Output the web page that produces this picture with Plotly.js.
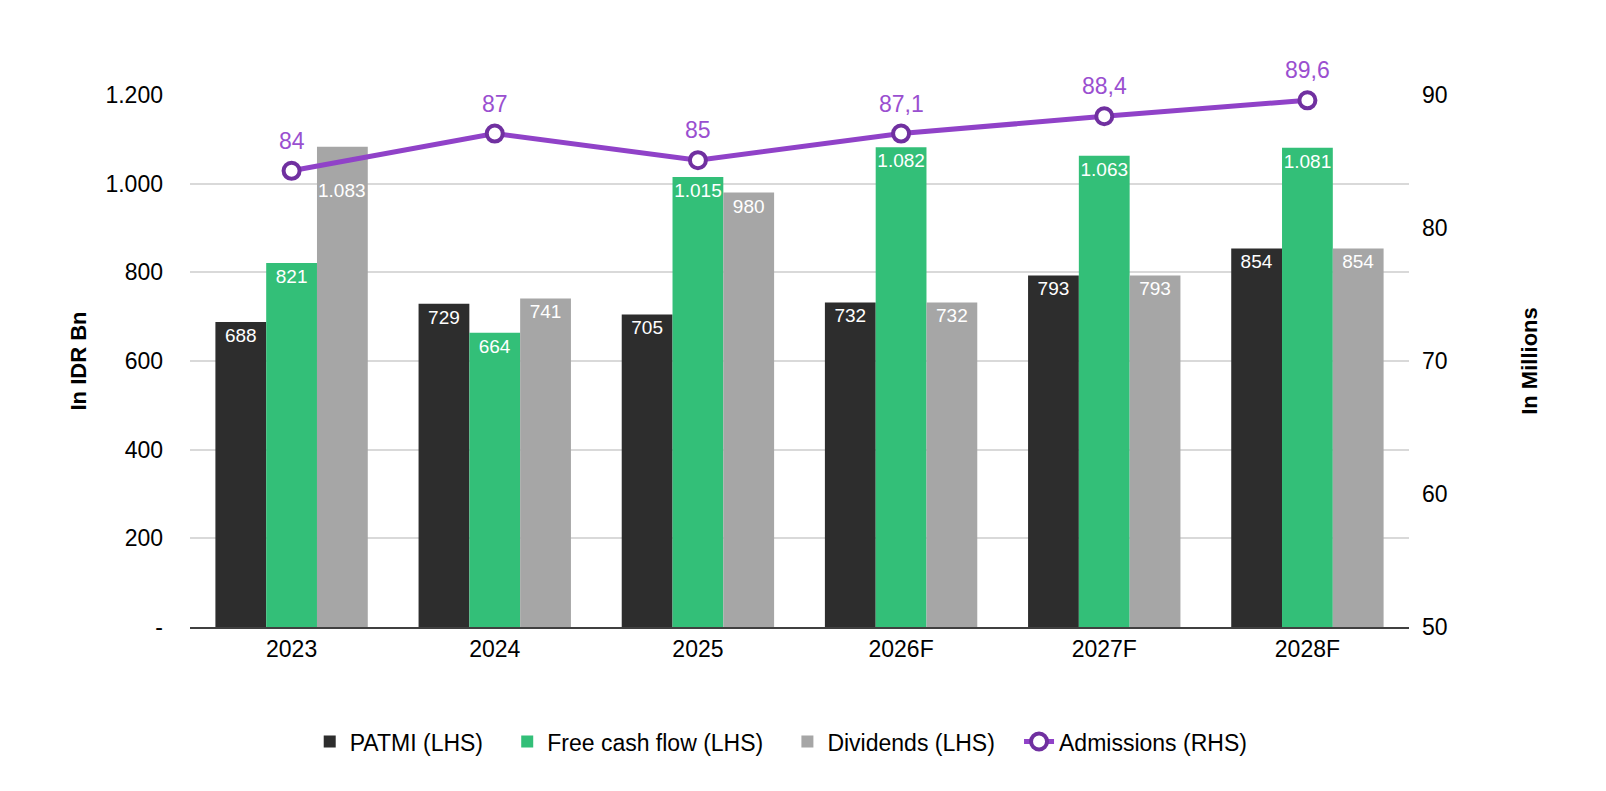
<!DOCTYPE html>
<html>
<head>
<meta charset="utf-8">
<script src="https://cdn.plot.ly/plotly-3.0.1.min.js"></script>
<style>
  html, body { margin: 0; padding: 0; background: #fff; }
  #chart { width: 1606px; height: 791px; }
</style>
</head>
<body>
<div id="chart"></div>
<script>
// chart values
const years = ['2023', '2024', '2025', '2026F', '2027F', '2028F'];
const patmi = [688, 729, 705, 732, 793, 854];
const freeCashFlow = [821, 664, 1015, 1082, 1063, 1081];
const dividends = [1083, 741, 980, 732, 793, 854];
const admissions = [84.3, 87.1, 85.1, 87.1, 88.4, 89.6];
const admissionLabels = ['84', '87', '85', '87,1', '88,4', '89,6'];
const leftTicks = [0, 200, 400, 600, 800, 1000, 1200];
const leftTickText = ['-', '200', '400', '600', '800', '1.000', '1.200'];
const rightTicks = [50, 60, 70, 80, 90];

const FONT = 'Liberation Sans, Arial, sans-serif';
const LABEL = '%{y:,}';
const GAP = '\u00a0\u00a0\u00a0';  // extra room between legend entries

// bar traces share most settings
function barTrace(name, values, color, templates) {
  return {
    type: 'bar',
    name: name + GAP,
    x: years,
    y: values,
    marker: { color: color },
    texttemplate: templates || LABEL,
    textposition: 'inside',
    insidetextanchor: 'end',
    textangle: 0,
    constraintext: 'none',
    textfont: { family: FONT, size: 19, color: '#ffffff' },
    hoverinfo: 'x+y+name'
  };
}

// first dividends label sits lower in the bar, clear of the line marker
const divTemplates = dividends.map((v, i) => i === 0 ? '' : LABEL);

const data = [
  barTrace('PATMI (LHS)', patmi, '#2d2d2d'),
  barTrace('Free cash flow (LHS)', freeCashFlow, '#33bf78'),
  barTrace('Dividends (LHS)', dividends, '#a6a6a6', divTemplates),
  {
    type: 'scatter',
    name: 'Admissions (RHS)',
    x: years,
    y: admissions,
    yaxis: 'y2',
    mode: 'lines+markers',
    line: { color: '#9042c8', width: 5 },
    marker: { size: 16, color: '#ffffff', line: { color: '#7030a0', width: 4 } },
    cliponaxis: false
  }
];

// admissions labels above the markers (x as category index: "2023" would be read as a number)
const annotations = admissions.map((v, i) => ({
  x: i,
  y: v,
  xref: 'x',
  yref: 'y2',
  text: admissionLabels[i],
  showarrow: false,
  yanchor: 'middle',
  yshift: 30,
  font: { family: FONT, size: 23, color: '#9a4fd0' }
}));

annotations.push({
  x: 0,
  y: dividends[0],
  xref: 'x',
  yref: 'y',
  text: (dividends[0] / 1000).toFixed(3),
  showarrow: false,
  yanchor: 'middle',
  xshift: 50,
  yshift: -44,
  font: { family: FONT, size: 19, color: '#ffffff' }
});

const layout = {
  width: 1606,
  height: 791,
  margin: { l: 190, r: 197, t: 95, b: 164 },
  paper_bgcolor: '#ffffff',
  plot_bgcolor: '#ffffff',
  font: { family: FONT, size: 23, color: '#000000' },
  separators: ',.',
  barmode: 'group',
  bargap: 0.25,
  bargroupgap: 0,
  showlegend: true,
  annotations: annotations,
  legend: {
    orientation: 'h',
    x: 0.485,
    xanchor: 'center',
    y: -0.175,
    yanchor: 'top',
    font: { family: FONT, size: 23, color: '#000000' },
    traceorder: 'normal'
  },
  xaxis: {
    type: 'category',
    range: [-0.5, years.length - 0.5],
    showgrid: false,
    showline: true,
    linecolor: '#404040',
    linewidth: 2,
    ticks: '',
    tickfont: { family: FONT, size: 23 },
    ticklabelstandoff: 0
  },
  yaxis: {
    range: [0, 1200],
    tickvals: leftTicks,
    ticktext: leftTickText,
    showgrid: true,
    gridcolor: '#d9d9d9',
    gridwidth: 2,
    zeroline: false,
    ticks: '',
    ticklabelstandoff: 26,
    tickfont: { family: FONT, size: 23 },
    title: { text: '<b>In IDR Bn</b>', font: { family: FONT, size: 22 }, standoff: 12 }
  },
  yaxis2: {
    overlaying: 'y',
    side: 'right',
    range: [50, 90],
    tickvals: rightTicks,
    showgrid: false,
    zeroline: false,
    ticks: '',
    ticklabelstandoff: 12,
    tickfont: { family: FONT, size: 23 },
    title: { text: '<b>In Millions</b>', font: { family: FONT, size: 22 }, standoff: 75 }
  }
};

Plotly.newPlot('chart', data, layout, { displayModeBar: false, staticPlot: true });
</script>
</body>
</html>
